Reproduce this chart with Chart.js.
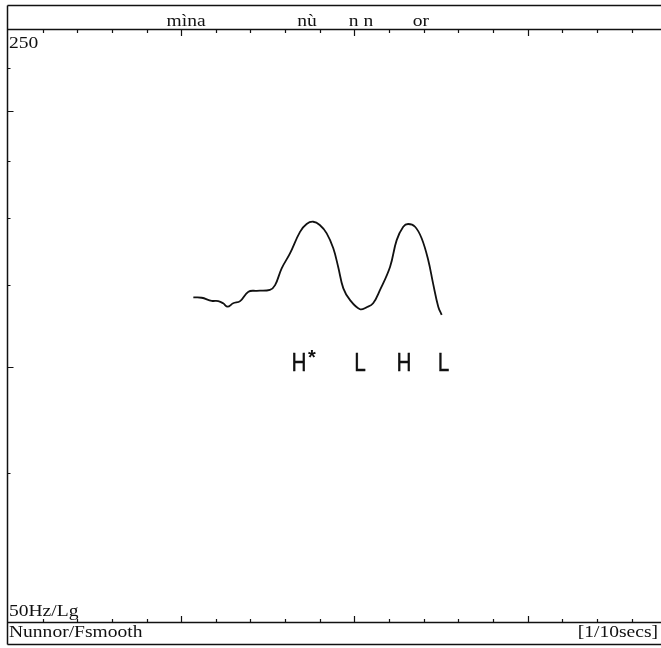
<!DOCTYPE html>
<html><head><meta charset="utf-8">
<script src="https://cdn.jsdelivr.net/npm/chart.js@4.4.1/dist/chart.umd.min.js"></script>
<style>html,body{margin:0;padding:0;background:#fff;}#wrap{width:661px;height:648px;}</style>
</head><body><div id="wrap"><canvas id="c" width="661" height="648"></canvas></div>
<script>
// time in 1/10 s, F0 in Hz (log scale 50-250)
const timeTenths = [5.35,5.59,5.88,6.07,6.21,6.34,6.50,6.70,6.94,7.18,7.56,7.71,7.90,8.14,8.43,8.62,8.81,9.00,9.20,9.39,9.53,9.68,9.87,10.16,10.35,10.54,10.74,11.03,11.22,11.41,11.55,11.75,11.94,12.13,12.27,12.42,12.52];
const f0Hz = [120.8,120.7,119.7,119.6,118.9,117.8,118.9,119.6,122.7,123.0,123.3,124.9,130.7,136.1,144.3,147.4,148.3,147.0,143.7,138.0,131.3,123.8,120.0,117.0,117.6,118.9,123.3,131.3,141.1,146.3,147.4,146.3,141.8,133.7,125.5,117.8,115.2];
const xTickValues = [1,2,3,4,5,6,7,8,9,10,11,12,13,14,15,16,17,18];
const yTickValues = [75,100,125,150,175,200,225];
const syllables = ['mìna','nù','n n','or'];
const syllableTimes = [5.14,8.63,10.19,11.92];
const tones = ['H*','L','H','L'];
const toneTimes = [8.40,10.16,11.43,12.57];
const toneHz = [99,99,99,99];
const yTopLabel = '250';
const yBottomLabel = '50Hz/Lg';
const fileLabel = 'Nunnor/Fsmooth';
const unitLabel = '[1/10secs]';

const points = timeTenths.map((t,i)=>({x:t,y:f0Hz[i]}));

const framePlugin = {
  id:'frame',
  afterDraw(chart){
    const ctx = chart.ctx, a = chart.chartArea;
    const xs = chart.scales.x, ys = chart.scales.y;
    const topB = 5.5, botB = 644.5, leftB = 7.5, W = chart.width;
    ctx.save();
    ctx.strokeStyle = '#111';
    ctx.lineWidth = 1.5;
    ctx.beginPath();
    ctx.moveTo(leftB, topB); ctx.lineTo(W, topB);
    ctx.moveTo(leftB, a.top+0.5); ctx.lineTo(W, a.top+0.5);
    ctx.moveTo(leftB, a.bottom-0.5); ctx.lineTo(W, a.bottom-0.5);
    ctx.moveTo(leftB, botB); ctx.lineTo(W, botB);
    ctx.moveTo(leftB, topB); ctx.lineTo(leftB, botB);
    ctx.stroke();
    // x ticks (inward)
    ctx.lineWidth = 1.2;
    ctx.beginPath();
    xTickValues.forEach(v=>{
      const px = Math.round(xs.getPixelForValue(v))+0.5;
      const len = (v%5===0)?7:4;
      ctx.moveTo(px, a.top); ctx.lineTo(px, a.top+len);
      ctx.moveTo(px, a.bottom); ctx.lineTo(px, a.bottom-len);
    });
    yTickValues.forEach(v=>{
      const py = Math.round(ys.getPixelForValue(v))+0.5;
      const len = (v%100===0)?6:3;
      ctx.moveTo(leftB, py); ctx.lineTo(leftB+len, py);
    });
    ctx.stroke();
    // serif texts, horizontally stretched
    const serif = (txt, x, y, size, align)=>{
      ctx.save();
      ctx.font = size+'px "Liberation Serif", "DejaVu Serif", serif';
      ctx.fillStyle = '#111';
      ctx.textBaseline = 'alphabetic';
      const sx = 1.22;
      const w = ctx.measureText(txt).width*sx;
      let left = x;
      if(align==='center') left = x - w/2;
      if(align==='right') left = x - w;
      ctx.translate(left, y);
      ctx.scale(sx,1);
      ctx.textAlign = 'left';
      ctx.fillText(txt, 0, 0);
      ctx.restore();
    };
    serif(yTopLabel, 9, 48, 16, 'left');
    serif(yBottomLabel, 9, 616, 16, 'left');
    serif(fileLabel, 9, 637, 16, 'left');
    serif(unitLabel, 658, 637, 16, 'right');
    syllables.forEach((s,i)=>{
      serif(s, xs.getPixelForValue(syllableTimes[i]), 26, 16, 'center');
    });
    // tone labels (hand-written style)
    ctx.fillStyle = '#111';
    ctx.strokeStyle = '#111';
    ctx.textBaseline = 'alphabetic';
    tones.forEach((tn,i)=>{
      const px = xs.getPixelForValue(toneTimes[i]);
      const py = ys.getPixelForValue(toneHz[i]);
      ctx.save();
      ctx.font = '26px "Liberation Sans", "DejaVu Sans", sans-serif';
      ctx.textAlign = 'center';
      ctx.translate(px, py);
      ctx.scale(0.8,1);
      ctx.lineWidth = 0.4;
      ctx.fillText(tn[0], 0, 0);
      ctx.strokeText(tn[0], 0, 0);
      ctx.restore();
      if(tn.length>1){
        ctx.save();
        ctx.font = 'bold 20px "Liberation Sans", "DejaVu Sans", sans-serif';
        ctx.textAlign = 'left';
        ctx.fillText(tn.slice(1), px+9, py-7);
        ctx.restore();
      }
    });
    ctx.restore();
  }
};

new Chart(document.getElementById('c'), {
  type:'line',
  data:{datasets:[{data:points,borderColor:'#111',borderWidth:1.8,pointRadius:0,tension:0.4,fill:false}]},
  options:{
    responsive:false, animation:false, devicePixelRatio:1,
    layout:{padding:{left:8,right:0,top:29,bottom:25}},
    plugins:{legend:{display:false},tooltip:{enabled:false}},
    scales:{
      x:{type:'linear',display:false,min:0,max:18.85},
      y:{type:'logarithmic',display:false,min:50,max:250}
    }
  },
  plugins:[framePlugin]
});
</script></body></html>
